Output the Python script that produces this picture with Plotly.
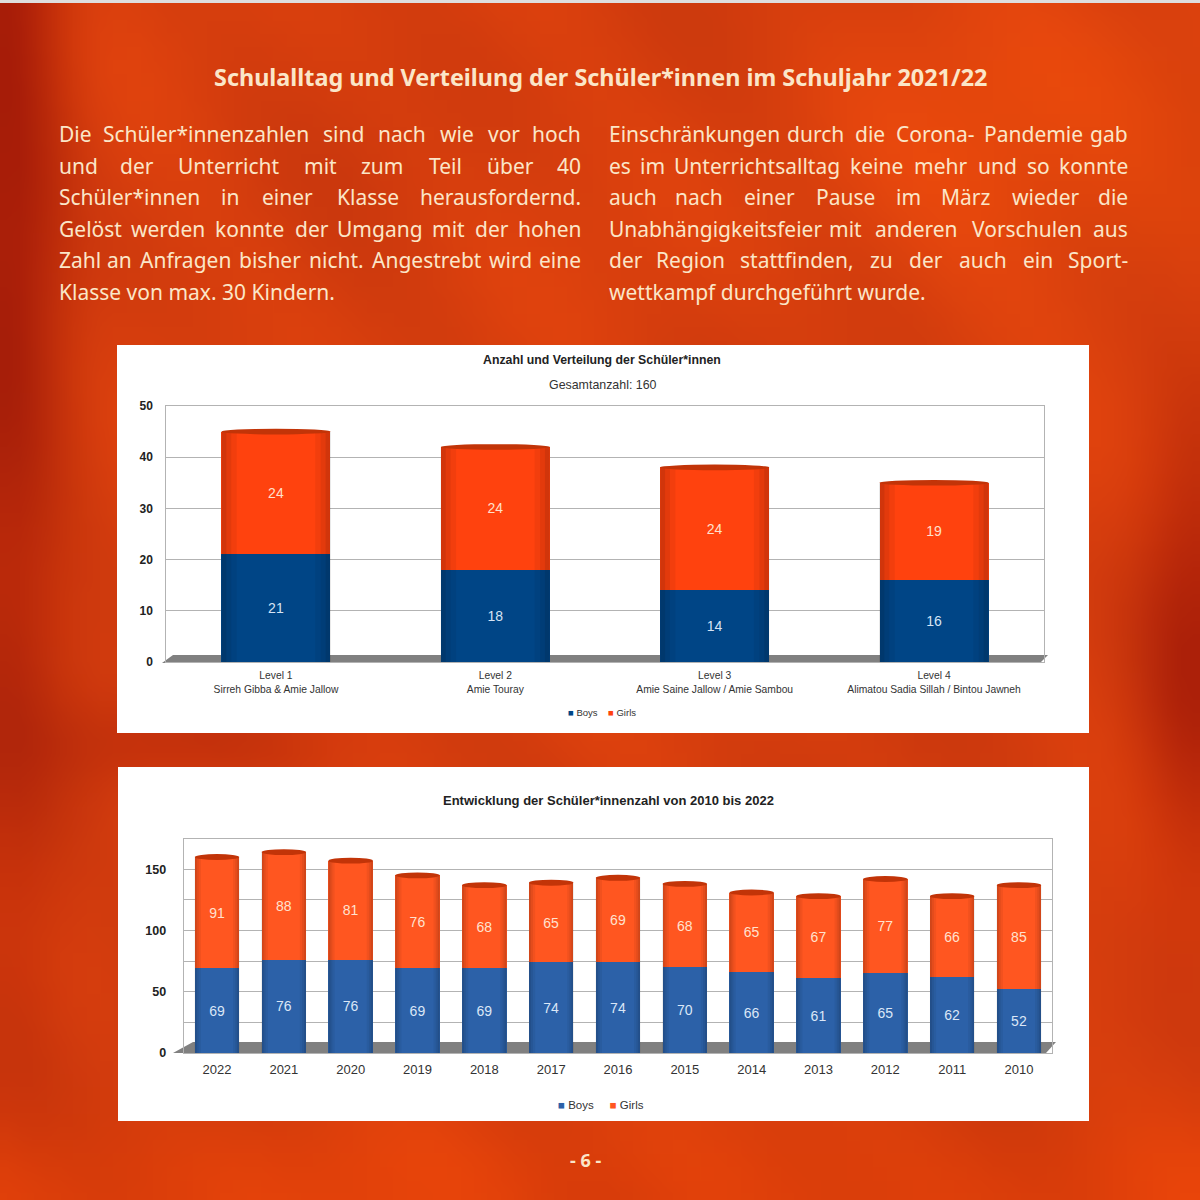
import base64
import struct
import zlib

import numpy as np
import plotly.graph_objects as go

W = H = 1200

# ---------------- data ----------------
levels = ["Level 1", "Level 2", "Level 3", "Level 4"]
teachers = ["Sirreh Gibba & Amie Jallow", "Amie Touray",
            "Amie Saine Jallow / Amie Sambou", "Alimatou Sadia Sillah / Bintou Jawneh"]
level_boys = [21, 18, 14, 16]
level_girls = [24, 24, 24, 19]
level_yticks = [0, 10, 20, 30, 40, 50]

years = ["2022", "2021", "2020", "2019", "2018", "2017", "2016",
         "2015", "2014", "2013", "2012", "2011", "2010"]
year_boys = [69, 76, 76, 69, 69, 74, 74, 70, 66, 61, 65, 62, 52]
year_girls = [91, 88, 81, 76, 68, 65, 69, 68, 65, 67, 77, 66, 85]
year_yticks = [0, 50, 100, 150]

series_names = ["Boys", "Girls"]

page_title = "Schulalltag und Verteilung der Schüler*innen im Schuljahr 2021/22"
left_lines = [
    "Die Schüler*innenzahlen sind nach wie vor hoch",
    "und der Unterricht mit zum Teil über 40",
    "Schüler*innen in einer Klasse herausfordernd.",
    "Gelöst werden konnte der Umgang mit der hohen",
    "Zahl an Anfragen bisher nicht. Angestrebt wird eine",
    "Klasse von max. 30 Kindern.",
]
right_lines = [
    "Einschränkungen durch die Corona- Pandemie gab",
    "es im Unterrichtsalltag keine mehr und so konnte",
    "auch nach einer Pause im März wieder die",
    "Unabhängigkeitsfeier mit anderen Vorschulen aus",
    "der Region stattfinden, zu der auch ein Sport-",
    "wettkampf durchgeführt wurde.",
]
chart1_title = "Anzahl und Verteilung der Schüler*innen"
chart1_subtitle = "Gesamtanzahl: 160"
chart2_title = "Entwicklung der Schüler*innenzahl von 2010 bis 2022"
page_number = "- 6 -"

# ---------------- styles ----------------
C1_BOYS, C1_GIRLS = "#004586", "#ff420e"
C2_BOYS, C2_GIRLS = "#2c61a8", "#ff5620"
CREAM = "#fbe6c8"
TXT = "#333333"
GRID = "#b3b3b3"
CHART_FONT = "Liberation Sans"
BODY_FONT = "Noto Sans"


def px(x):
    return x / W


def py(y):
    return 1 - y / H


# ---------------- background texture (PNG built in memory) ----------------
def make_png(arr):
    h, w, _ = arr.shape
    raw = b"".join(b"\x00" + arr[i].tobytes() for i in range(h))

    def chunk(tag, data):
        c = tag + data
        return struct.pack(">I", len(data)) + c + struct.pack(">I", zlib.crc32(c) & 0xFFFFFFFF)

    png = b"\x89PNG\r\n\x1a\n"
    png += chunk(b"IHDR", struct.pack(">IIBBBBB", w, h, 8, 2, 0, 0, 0))
    png += chunk(b"IDAT", zlib.compress(raw, 9))
    png += chunk(b"IEND", b"")
    return "data:image/png;base64," + base64.b64encode(png).decode()


n = 90
u, v = np.meshgrid(np.linspace(0, 1, n), np.linspace(0, 1, n))
col = np.zeros((n, n, 3))
col[..., 0], col[..., 1], col[..., 2] = 214, 62, 14


def blend(c, target, w):
    w = np.clip(w, 0, 1)[..., None]
    return c * (1 - w) + np.array(target) * w


col = blend(col, (160, 24, 8), 0.85 * np.exp(-(u / 0.05) ** 2) * np.clip(1.15 - v, 0, 1))
col = blend(col, (165, 26, 8), 0.75 * np.exp(-((1 - u) / 0.05) ** 2) * np.exp(-((v - 0.55) / 0.2) ** 2))
col = blend(col, (236, 76, 12), 0.65 * np.exp(-((u - 0.9) / 0.25) ** 2 - ((v - 0.12) / 0.16) ** 2))
col = blend(col, (230, 66, 8), 0.6 * np.exp(-((v - 1) / 0.07) ** 2))
col = blend(col, (175, 35, 10), 0.45 * np.exp(-((u - 0.15) / 0.15) ** 2 - ((v - 0.62) / 0.04) ** 2))
tex = 7 * np.sin(u * 13 + v * 7) * np.cos(v * 11 - u * 5) + 4 * np.sin(u * 31 - v * 23)
col[..., 0] += tex
col[..., 1] += tex * 0.5
bg_png = make_png(np.clip(col, 0, 255).astype(np.uint8))

# ---------------- figure ----------------
fig = go.Figure()

x1 = list(range(len(levels)))
x2 = list(range(len(years)))
W1, W2 = 0.497, 0.665


def bar(x, y, name, width, color, tcolor, xa, ya):
    return go.Bar(x=x, y=y, name=name, width=width,
                  marker=dict(color=color, line=dict(width=0)),
                  text=y, textposition="inside", insidetextanchor="middle",
                  textangle=0, constraintext="none",
                  textfont=dict(family=CHART_FONT, size=14, color=tcolor),
                  xaxis=xa, yaxis=ya, showlegend=False, hoverinfo="skip")


fig.add_trace(bar(x1, level_boys, series_names[0], W1, C1_BOYS, "#d6e4f5", "x", "y"))
fig.add_trace(bar(x1, level_girls, series_names[1], W1, C1_GIRLS, "#ffe0cc", "x", "y"))
fig.add_trace(bar(x2, year_boys, series_names[0], W2, C2_BOYS, "#dbe7f7", "x2", "y2"))
fig.add_trace(bar(x2, year_girls, series_names[1], W2, C2_GIRLS, "#ffe2cf", "x2", "y2"))

shapes = []
# page top border
shapes.append(dict(type="rect", xref="paper", yref="paper", x0=0, x1=1, y0=py(3), y1=1,
                   fillcolor="#dedede", line=dict(width=0), layer="below"))
# white chart boxes
shapes.append(dict(type="rect", xref="paper", yref="paper", x0=px(117), x1=px(1089),
                   y0=py(733), y1=py(345), fillcolor="white", line=dict(width=0), layer="below"))
shapes.append(dict(type="rect", xref="paper", yref="paper", x0=px(118), x1=px(1089),
                   y0=py(1121), y1=py(767), fillcolor="white", line=dict(width=0), layer="below"))
# 3D floors
shapes.append(dict(type="path", xref="paper", yref="paper", layer="below",
                   path=f"M {px(162)},{py(663)} L {px(1040)},{py(663)} L {px(1048)},{py(655)} L {px(173)},{py(655)} Z",
                   fillcolor="#808080", line=dict(width=0)))
shapes.append(dict(type="path", xref="paper", yref="paper", layer="below",
                   path=f"M {px(173)},{py(1053)} L {px(1046)},{py(1053)} L {px(1056)},{py(1042)} L {px(193)},{py(1042)} Z",
                   fillcolor="#808080", line=dict(width=0)))


def cylinder_decor(xs, totals, width, xr, yr, dy):
    for i, t in zip(xs, totals):
        # soft edge shading to suggest a cylinder
        for frac, alpha in ((0.14, 0.05), (0.09, 0.06), (0.045, 0.08)):
            shapes.append(dict(type="rect", xref=xr, yref=yr, x0=i - width / 2, x1=i - width / 2 + width * frac,
                               y0=0, y1=t, fillcolor=f"rgba(0,0,0,{alpha})", line=dict(width=0)))
            shapes.append(dict(type="rect", xref=xr, yref=yr, x0=i + width / 2 - width * frac, x1=i + width / 2,
                               y0=0, y1=t, fillcolor=f"rgba(0,0,0,{alpha})", line=dict(width=0)))
        shapes.append(dict(type="circle", xref=xr, yref=yr, x0=i - width / 2, x1=i + width / 2,
                           y0=t - dy, y1=t + dy, fillcolor="#c23408", line=dict(width=0)))


cylinder_decor(x1, [b + g for b, g in zip(level_boys, level_girls)], W1, "x", "y", 0.55)
cylinder_decor(x2, [b + g for b, g in zip(year_boys, year_girls)], W2, "x2", "y2", 2.4)

annotations = []


def ann(text, x, y, size, color, family, xanchor="center", bold=False):
    annotations.append(dict(text=f"<b>{text}</b>" if bold else text, x=px(x), y=py(y),
                            xref="paper", yref="paper", xanchor=xanchor, yanchor="middle",
                            showarrow=False, font=dict(size=size, color=color, family=family)))


# approximate Noto Sans advance widths (per 1000 em)
CW = {" ": 260, "a": 556, "b": 613, "c": 476, "d": 613, "e": 561, "f": 339, "g": 548, "h": 614,
      "i": 253, "j": 253, "k": 525, "l": 253, "m": 930, "n": 614, "o": 604, "p": 613, "q": 613,
      "r": 408, "s": 477, "t": 353, "u": 614, "v": 501, "w": 778, "x": 524, "y": 502, "z": 477,
      "ä": 556, "ö": 604, "ü": 614, ".": 266, ",": 244, "-": 322, "*": 547, "/": 367,
      "A": 633, "B": 648, "C": 631, "D": 729, "E": 556, "F": 516, "G": 728, "H": 738, "I": 279,
      "K": 613, "L": 519, "M": 903, "P": 603, "R": 618, "S": 549, "U": 732, "V": 593, "Z": 565}
BODY_SIZE = 21


def est(s):
    return sum(CW.get(c, 572) for c in s) * BODY_SIZE / 1000


def body_line(text, xl, xr, y, justify):
    words = text.split(" ")
    if not justify or len(words) < 2:
        ann(text, xl, y, BODY_SIZE, CREAM, BODY_FONT, "left")
        return
    ws = [est(w) for w in words]
    gap = (xr - xl - sum(ws)) / (len(words) - 1)
    pos = xl
    for i, (w, wd) in enumerate(zip(words, ws)):
        if i == 0:
            ann(w, xl, y, BODY_SIZE, CREAM, BODY_FONT, "left")
        elif i == len(words) - 1:
            ann(w, xr, y, BODY_SIZE, CREAM, BODY_FONT, "right")
        else:
            ann(w, pos + wd / 2, y, BODY_SIZE, CREAM, BODY_FONT, "center")
        pos += wd + gap


line_y = [134, 166, 197, 229, 260, 292]
for k, (lt, rt) in enumerate(zip(left_lines, right_lines)):
    last = k == len(left_lines) - 1
    body_line(lt, 57, 583, line_y[k], not last)
    body_line(rt, 607, 1130, line_y[k], not last)

ann(page_title, 600, 77, 23.4, CREAM, BODY_FONT, bold=True)
ann(page_number, 585, 1160, 18, CREAM, BODY_FONT, bold=True)
ann(chart1_title, 602, 360, 12.3, "#222222", CHART_FONT, bold=True)
ann(chart1_subtitle, 603, 385, 12.4, TXT, CHART_FONT)
ann(chart2_title, 608, 800, 13, "#222222", CHART_FONT, bold=True)
ann(f"<span style='color:{C1_BOYS}'>■</span> {series_names[0]}    "
    f"<span style='color:{C1_GIRLS}'>■</span> {series_names[1]}", 602, 712, 9.5, TXT, CHART_FONT)
ann(f"<span style='color:{C2_BOYS}'>■</span> {series_names[0]}     "
    f"<span style='color:{C2_GIRLS}'>■</span> {series_names[1]}", 601, 1105, 11.5, TXT, CHART_FONT)

axis_common = dict(showgrid=False, zeroline=False, showline=True, mirror=True, automargin=False,
                   linecolor=GRID, linewidth=1, ticks="", fixedrange=True)

fig.update_layout(
    width=W, height=H, margin=dict(l=0, r=0, t=0, b=0, pad=0, autoexpand=False),
    paper_bgcolor="#d63e0e", plot_bgcolor="rgba(0,0,0,0)",
    barmode="stack", bargap=0, showlegend=False, hovermode=False,
    images=[dict(source=bg_png, xref="paper", yref="paper", x=0, y=1, sizex=1, sizey=1,
                 sizing="stretch", xanchor="left", yanchor="top", layer="below")],
    shapes=shapes, annotations=annotations,
    xaxis=dict(**axis_common, domain=[px(166.3), px(1043.7)], range=[-0.5, len(levels) - 0.5],
               tickmode="array", tickvals=x1,
               ticktext=[f"{a}<br>{b}" for a, b in zip(levels, teachers)],
               tickfont=dict(family=CHART_FONT, size=10.3, color=TXT), ticklabelstandoff=4,
               anchor="y"),
    yaxis=dict(**{**axis_common, "showgrid": True}, gridcolor=GRID, gridwidth=1,
               domain=[py(662), py(406)], range=[0, 50], tickmode="array", tickvals=level_yticks,
               tickfont=dict(family=CHART_FONT, size=12, color="#222222", weight="bold"),
               ticklabelstandoff=10, anchor="x"),
    xaxis2=dict(**axis_common, domain=[px(183.6), px(1052.4)], range=[-0.5, len(years) - 0.5],
                tickmode="array", tickvals=x2, ticktext=years,
                tickfont=dict(family=CHART_FONT, size=13, color=TXT), ticklabelstandoff=4,
                anchor="y2"),
    yaxis2=dict(**{**axis_common, "showgrid": True}, gridcolor=GRID, gridwidth=1,
                domain=[py(1053), py(838.6)], range=[0, 175], tickmode="array", tickvals=year_yticks,
                minor=dict(dtick=25, showgrid=True, gridcolor=GRID, gridwidth=1),
                tickfont=dict(family=CHART_FONT, size=12.5, color="#222222", weight="bold"),
                ticklabelstandoff=14, anchor="x2"),
)

fig.write_html("out.html", config={"displayModeBar": False, "staticPlot": True},
               post_script="document.body.style.margin='0';document.body.style.overflow='hidden';")
